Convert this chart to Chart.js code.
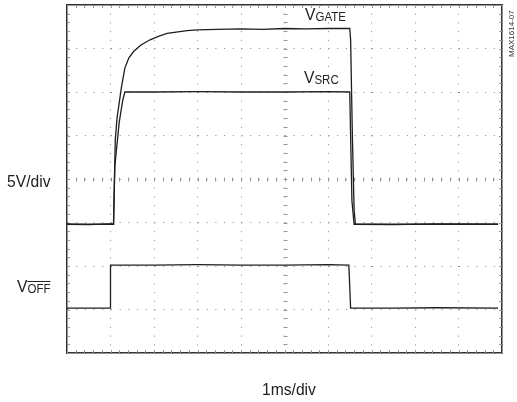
<!DOCTYPE html>
<html>
<head>
<meta charset="utf-8">
<script src="https://cdn.jsdelivr.net/npm/chart.js@4.4.1/dist/chart.umd.min.js"></script>
<style>
  body { margin: 0; background: #fff; }
  #wrap { position: relative; width: 517px; height: 402px; }
  .lbl { position: absolute; font-family: "Liberation Sans", sans-serif; font-size: 17px; line-height: 17px; color: #222; white-space: nowrap; transform-origin: 0 0; transform: scaleX(0.92); }
  .lbl span { font-size: 12.5px; vertical-align: -1px; }
  .code { position: absolute; font-family: "Liberation Sans", sans-serif; font-size: 8px; line-height: 8px; color: #333; transform-origin: 0 0; transform: rotate(-90deg); white-space: nowrap; }
</style>
</head>
<body>
<div id="wrap">
  <canvas id="scope" width="517" height="402"></canvas>
  <div class="lbl" style="left:305px;top:5.5px">V<span>GATE</span></div>
  <div class="lbl" style="left:304px;top:68.5px">V<span>SRC</span></div>
  <div class="lbl" style="left:7px;top:172.5px">5V/div</div>
  <div class="lbl" style="left:17px;top:277.5px">V<span style="text-decoration:overline">OFF</span></div>
  <div class="lbl" style="left:262px;top:380.5px">1ms/div</div>
  <div class="code" style="left:508px;top:57px">MAX1614-07</div>
</div>
<script>
// time in divisions (1ms/div), voltage in divisions (5V/div), 0 = bottom of screen
const xDivs = 10;
const yDivs = 8;

const gateTime = [0, 0.5, 1.0, 1.07, 1.09, 1.11, 1.15, 1.2, 1.25, 1.33, 1.42, 1.53, 1.7, 1.91, 2.1, 2.3, 2.76, 3.0, 3.45, 4.0, 4.5, 5.0, 5.5, 6.0, 6.5, 6.52, 6.56, 6.6, 6.63, 7.5, 8.5, 9.91];
const gateVolts = [2.96, 2.95, 2.97, 2.96, 4.0, 4.9, 5.4, 5.75, 6.1, 6.55, 6.78, 6.93, 7.08, 7.2, 7.28, 7.35, 7.41, 7.43, 7.44, 7.45, 7.44, 7.46, 7.45, 7.46, 7.46, 7.2, 5.0, 3.3, 2.96, 2.95, 2.97, 2.96];

const srcTime = [0, 1.07, 1.1, 1.2, 1.28, 1.33, 2.0, 3.0, 4.0, 5.0, 6.0, 6.5, 6.52, 6.55, 6.6, 9.91];
const srcVolts = [2.96, 2.96, 4.3, 5.3, 5.8, 6.0, 6.0, 6.01, 6.0, 6.0, 6.01, 6.0, 5.0, 3.5, 2.96, 2.96];

const offTime = [0, 0.99, 1.0, 2.0, 3.0, 4.0, 5.0, 6.0, 6.48, 6.52, 7.5, 8.5, 9.91];
const offVolts = [1.03, 1.03, 2.02, 2.02, 2.03, 2.02, 2.02, 2.03, 2.02, 1.03, 1.03, 1.04, 1.03];

function toPoints(t, v) {
  return t.map((tt, i) => ({ x: tt, y: v[i] }));
}

// small inward ticks on the frame and on the centre cross, every 1/5 div
const minorTicks = {
  id: 'minorTicks',
  beforeDatasetsDraw(chart) {
    const { ctx, chartArea: a, scales: { x, y } } = chart;
    const xc = Math.round(x.getPixelForValue(xDivs / 2)) + 0.5;
    const yc = Math.round(y.getPixelForValue(yDivs / 2)) + 0.5;
    ctx.save();
    ctx.strokeStyle = '#999';
    ctx.lineWidth = 1;
    ctx.beginPath();
    for (let i = 0; i <= xDivs * 5; i++) {
      const px = Math.round(x.getPixelForValue(i / 5)) + 0.5;
      ctx.moveTo(px, a.bottom); ctx.lineTo(px, a.bottom - 3);
      ctx.moveTo(px, a.top); ctx.lineTo(px, a.top + 3);
      ctx.moveTo(px, yc - 2); ctx.lineTo(px, yc + 2);
    }
    for (let i = 0; i <= yDivs * 5; i++) {
      const py = Math.round(y.getPixelForValue(i / 5)) + 0.5;
      ctx.moveTo(a.left, py); ctx.lineTo(a.left + 3, py);
      ctx.moveTo(a.right, py); ctx.lineTo(a.right - 3, py);
      ctx.moveTo(xc - 2, py); ctx.lineTo(xc + 2, py);
    }
    ctx.stroke();
    ctx.restore();
  }
};

const trace = {
  borderColor: '#1e1e1e',
  borderWidth: 1.3,
  pointRadius: 0,
  tension: 0,
  fill: false
};

new Chart(document.getElementById('scope'), {
  type: 'line',
  data: {
    datasets: [
      Object.assign({ label: 'VGATE', data: toPoints(gateTime, gateVolts) }, trace),
      Object.assign({ label: 'VSRC', data: toPoints(srcTime, srcVolts) }, trace),
      Object.assign({ label: 'VOFF', data: toPoints(offTime, offVolts) }, trace)
    ]
  },
  options: {
    responsive: false,
    animation: false,
    layout: { padding: { left: 67, right: 15, top: 5, bottom: 49 } },
    plugins: { legend: { display: false }, tooltip: { enabled: false } },
    scales: {
      x: {
        type: 'linear', min: 0, max: xDivs,
        ticks: { display: false, stepSize: 1 },
        grid: { color: '#888', lineWidth: 1, drawTicks: false },
        border: { display: true, color: '#333', width: 1.5, dash: [1, 7.7] }
      },
      y: {
        type: 'linear', min: 0, max: yDivs,
        ticks: { display: false, stepSize: 1 },
        grid: { color: '#888', lineWidth: 1, drawTicks: false },
        border: { display: true, color: '#333', width: 1.5, dash: [1, 7.7] }
      },
      x2: {
        type: 'linear', position: 'top', min: 0, max: xDivs,
        ticks: { display: false },
        grid: { display: false, drawTicks: false },
        border: { display: true, color: '#333', width: 1.5 }
      },
      y2: {
        type: 'linear', position: 'right', min: 0, max: yDivs,
        ticks: { display: false },
        grid: { display: false, drawTicks: false },
        border: { display: true, color: '#333', width: 1.5 }
      }
    }
  },
  plugins: [minorTicks]
});
</script>
</body>
</html>
